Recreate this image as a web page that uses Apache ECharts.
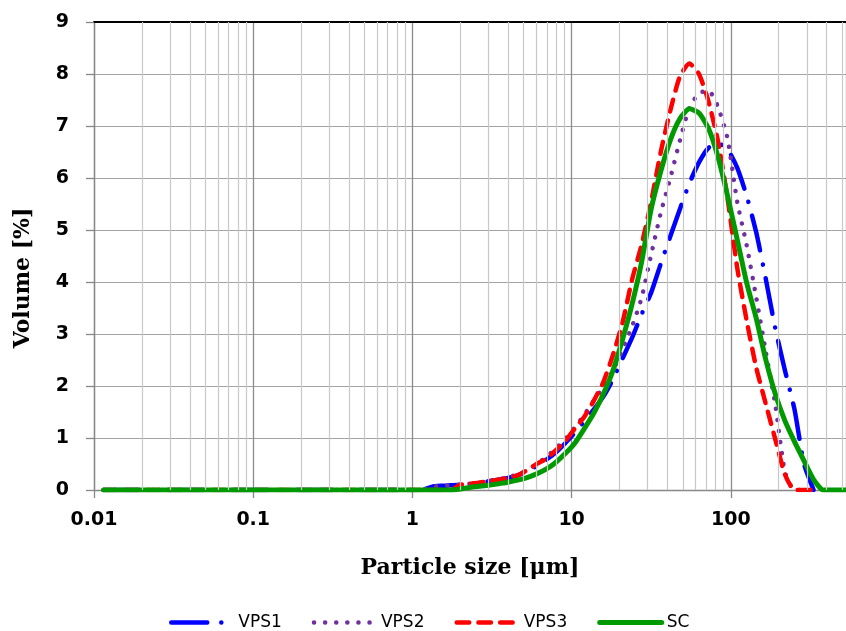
<!DOCTYPE html>
<html>
<head>
<meta charset="utf-8">
<script src="https://cdn.jsdelivr.net/npm/echarts@6/dist/echarts.min.js"></script>
<style>
  html, body { margin: 0; padding: 0; background: #fff; }
  #chart { width: 846px; height: 631px; }
</style>
</head>
<body>
<div id="chart"></div>
<script>
// Particle size classes [µm]
const SIZES = [0.0115, 1.0, 1.148, 1.318, 1.514, 1.738, 1.995, 2.291, 2.630, 3.020, 3.467,
  3.981, 4.571, 5.248, 6.026, 6.918, 7.943, 9.120, 10.47, 12.02, 13.80,
  15.85, 18.20, 20.89, 23.99, 27.54, 31.62, 36.31, 41.69, 47.86, 54.95,
  63.10, 72.44, 83.18, 95.50, 109.6, 125.9, 144.5, 166.0, 190.5, 218.8,
  251.2, 288.4, 331.1, 380.2, 436.5, 501.2, 575.4];

// Volume [%]
const VPS1 = [0, 0, 0, 0.06, 0.08, 0.09, 0.10, 0.12, 0.14, 0.17, 0.20,
  0.23, 0.28, 0.36, 0.46, 0.58, 0.72, 0.90, 1.10, 1.32, 1.55,
  1.80, 2.13, 2.53, 2.93, 3.38, 3.80, 4.35, 4.88, 5.40, 5.90,
  6.30, 6.58, 6.67, 6.55, 6.20, 5.65, 4.95, 4.05, 3.10, 2.30,
  1.55, 0.50, 0, null, null, null, null];

const VPS2 = [0, 0, 0, 0.06, 0.08, 0.09, 0.10, 0.12, 0.14, 0.17, 0.20,
  0.24, 0.30, 0.38, 0.50, 0.63, 0.80, 0.98, 1.20, 1.45, 1.72,
  1.98, 2.30, 2.70, 3.15, 3.70, 4.53, 5.33, 6.00, 6.72, 7.35,
  7.63, 7.68, 7.36, 6.75, 5.55, 4.70, 3.70, 2.65, 1.63, 0.35,
  0, 0, 0, null, null, null, null];

const VPS3 = [0, 0, 0, 0, 0, 0, 0.10, 0.12, 0.14, 0.17, 0.20,
  0.23, 0.28, 0.38, 0.50, 0.60, 0.76, 0.94, 1.18, 1.41, 1.72,
  2.08, 2.60, 3.22, 4.05, 4.72, 5.55, 6.50, 7.30, 7.95, 8.20,
  8.00, 7.47, 6.70, 5.60, 4.28, 3.25, 2.35, 1.65, 0.97, 0.30,
  0, 0, 0, null, null, null, null];

const SC = [0, 0, 0, 0, 0, 0, 0.02, 0.05, 0.07, 0.09, 0.12,
  0.15, 0.19, 0.24, 0.31, 0.40, 0.53, 0.70, 0.90, 1.18, 1.48,
  1.85, 2.30, 2.90, 3.58, 4.39, 5.41, 6.13, 6.73, 7.14, 7.33,
  7.25, 6.95, 6.40, 5.65, 4.82, 3.98, 3.30, 2.50, 1.84, 1.33,
  0.93, 0.56, 0.20, 0, 0, 0, 0];

const SERIES_NAMES = ['VPS1', 'VPS2', 'VPS3', 'SC'];
const X_TICK_LABELS = ['0.01', '0.1', '1', '10', '100'];
const X_MIN = 0.01;
const X_MAX = 529;
const Y_TICKS = [0, 1, 2, 3, 4, 5, 6, 7, 8, 9];
const MINOR_GRID = [0.02, 0.03, 0.04, 0.05, 0.06, 0.07, 0.08, 0.09,
  0.2, 0.3, 0.4, 0.5, 0.6, 0.7, 0.8, 0.9,
  2, 3, 4, 5, 6, 7, 8, 9,
  20, 30, 40, 50, 60, 70, 80, 90,
  200, 300, 400, 500];

function pairs(vals) { return SIZES.map((s, i) => [s, vals[i]]); }

const STYLES = {
  VPS1: { color: '#0000FF', width: 4.5, type: [36, 14, 0.1, 14] },
  VPS2: { color: '#7030A0', width: 4.5, type: [0.1, 11] },
  VPS3: { color: '#FF0000', width: 4.5, type: [12.5, 9.2] },
  SC:   { color: '#009A00', width: 5, type: 'solid' }
};
const VALUES = { VPS1: VPS1, VPS2: VPS2, VPS3: VPS3, SC: SC };

const chart = echarts.init(document.getElementById('chart'), null, { renderer: 'canvas' });

const lineSeries = SERIES_NAMES.map(name => ({
  name: name,
  type: 'line',
  data: pairs(VALUES[name]),
  symbol: 'none',
  showSymbol: false,
  smooth: 0.2,
  z: 3,
  itemStyle: { color: STYLES[name].color },
  lineStyle: {
    color: STYLES[name].color,
    width: STYLES[name].width,
    type: STYLES[name].type,
    cap: 'round',
    join: 'round'
  }
}));

const option = {
  animation: false,
  backgroundColor: '#ffffff',
  grid: { left: 94, right: 0, top: 22, bottom: 141, containLabel: false },
  legend: {
    data: SERIES_NAMES,
    top: 609,
    left: 164,
    itemWidth: 62,
    itemHeight: 18,
    itemGap: 30,
    itemStyle: { opacity: 0, borderWidth: 0 },
    lineStyle: { width: 'inherit', type: 'inherit', cap: 'round', join: 'round' },
    textStyle: { fontFamily: 'DejaVu Sans', fontSize: 17, color: '#000' }
  },
  xAxis: [{
    type: 'log',
    logBase: 10,
    min: X_MIN,
    max: X_MAX,
    name: 'Particle size [μm]',
    nameLocation: 'middle',
    nameGap: 67,
    nameTextStyle: { fontFamily: 'DejaVu Serif', fontWeight: 'bold', fontSize: 22, color: '#000' },
    axisLine: { show: true, onZero: false, lineStyle: { color: '#888', width: 1.3 } },
    axisTick: { show: true, length: 8, inside: false, lineStyle: { color: '#888', width: 1.3 } },
    axisLabel: {
      fontFamily: 'DejaVu Sans', fontWeight: 'bold', fontSize: 19, color: '#000', margin: 21,
      showMaxLabel: false,
      formatter: function (v) {
        const l = Math.log10(v);
        const e = Math.round(l);
        if (Math.abs(l - e) > 1e-6) return '';
        const idx = e + 2;
        return X_TICK_LABELS[idx] !== undefined ? X_TICK_LABELS[idx] : '';
      }
    },
    splitLine: { show: true, lineStyle: { color: '#8c8c8c', width: 1.3 } }
  }, {
    type: 'log',
    logBase: 10,
    min: X_MIN,
    max: X_MAX,
    position: 'top',
    axisLine: { show: true, onZero: false, lineStyle: { color: '#000', width: 2 } },
    axisTick: { show: false },
    axisLabel: { show: false },
    splitLine: { show: false }
  }],
  yAxis: {
    type: 'value',
    min: Y_TICKS[0],
    max: Y_TICKS[Y_TICKS.length - 1],
    interval: 1,
    name: 'Volume [%]',
    nameLocation: 'middle',
    nameRotate: 90,
    nameGap: 60,
    nameTextStyle: { fontFamily: 'DejaVu Serif', fontWeight: 'bold', fontSize: 22, color: '#000', padding: [0, 44, 0, 0] },
    axisLine: { show: true, lineStyle: { color: '#888', width: 1.3 } },
    axisTick: { show: true, length: 8, lineStyle: { color: '#888', width: 1.3 } },
    axisLabel: { fontFamily: 'DejaVu Sans', fontWeight: 'bold', fontSize: 19, color: '#000', margin: 25 },
    splitLine: { show: true, lineStyle: { color: '#a3a3a3', width: 1.2 } }
  },
  series: [{
    name: '_minorGrid',
    type: 'line',
    data: [],
    z: 1,
    silent: true,
    markLine: {
      silent: true,
      animation: false,
      symbol: ['none', 'none'],
      label: { show: false },
      lineStyle: { color: '#c8c8c8', width: 1.2, type: 'solid' },
      emphasis: { disabled: true },
      data: MINOR_GRID.map(v => ({ xAxis: v }))
    }
  }].concat(lineSeries)
};

chart.setOption(option);
</script>
</body>
</html>
